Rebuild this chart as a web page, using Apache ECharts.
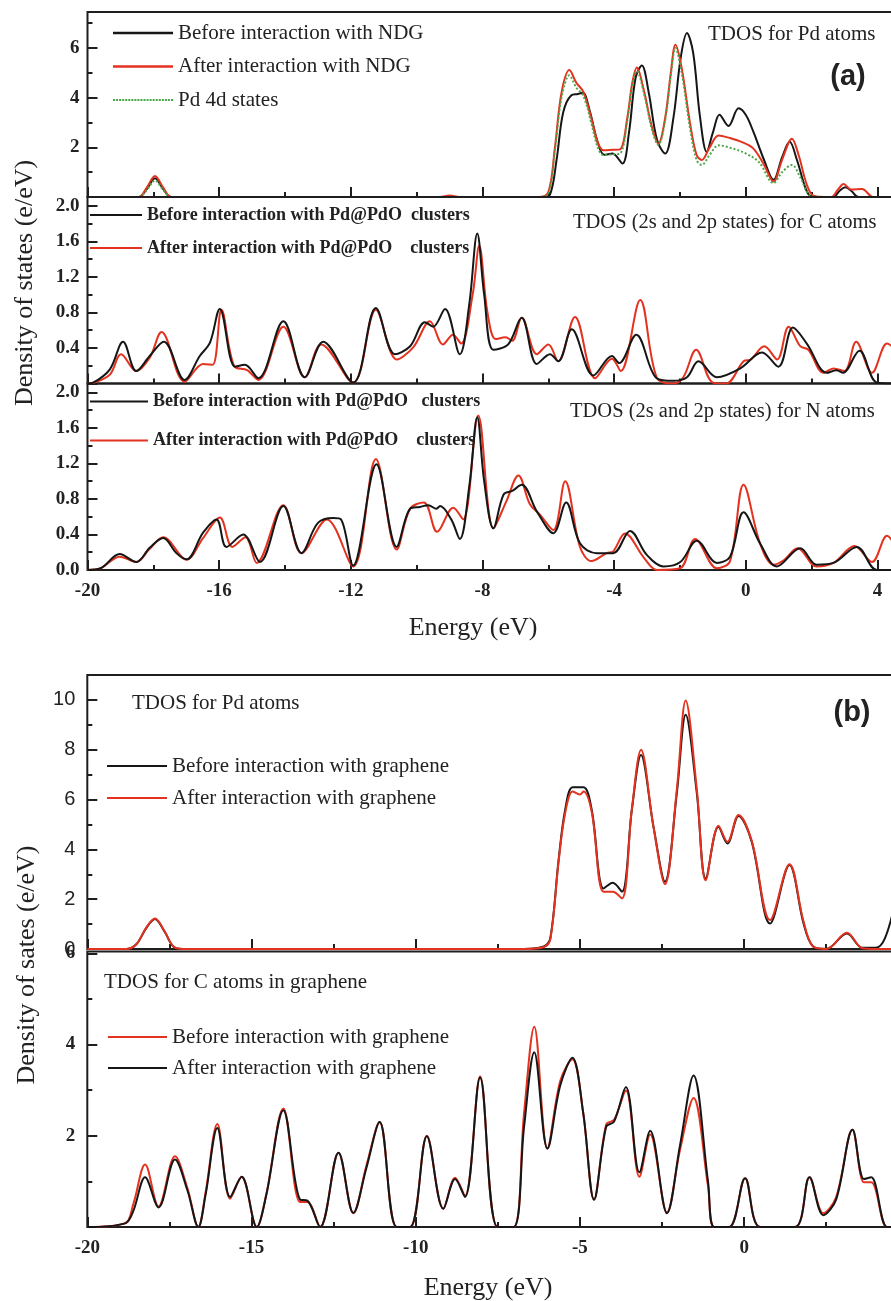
<!DOCTYPE html>
<html><head><meta charset="utf-8">
<script src="https://cdn.jsdelivr.net/npm/echarts@6/dist/echarts.min.js"></script>
<style>html,body{margin:0;padding:0;background:#fff}#c{width:891px;height:1301px}</style>
</head><body><div id="c"></div>
<script>
// ---------------- DATA ----------------
// Energy (eV), DOS (e/eV)
// (a) top: TDOS for Pd atoms
const aPdBefore = [[-20,0],[-18.45,0],[-18.2,0.32],[-17.95,0.76],[-17.7,0.32],[-17.45,0],[-6.2,0],[-5.95,0.1],[-5.75,1.5],[-5.55,3.4],[-5.3,4.1],[-5.1,4.15],[-4.95,4.2],[-4.75,3.5],[-4.5,2.2],[-4.3,1.7],[-4.05,1.75],[-3.75,1.35],[-3.55,2.6],[-3.35,4.8],[-3.16,5.3],[-2.95,4.2],[-2.7,2.3],[-2.45,1.75],[-2.2,3.2],[-1.98,5.6],[-1.79,6.6],[-1.6,5.8],[-1.4,3.3],[-1.19,1.82],[-1.0,2.6],[-0.8,3.31],[-0.53,2.86],[-0.22,3.57],[0.0,3.3],[0.23,2.62],[0.55,1.5],[0.84,0.69],[1.1,1.6],[1.33,2.22],[1.55,1.5],[1.8,0.4],[1.95,0.05],[2.2,0],[2.65,0],[2.85,0.25],[3.02,0.39],[3.2,0.25],[3.42,0],[4.5,0]];
const aPdAfter = [[-20,0],[-18.45,0],[-18.2,0.38],[-17.95,0.85],[-17.7,0.38],[-17.45,0],[-9.3,0],[-9.0,0.06],[-8.7,0],[-6.3,0],[-6.0,0.2],[-5.8,2.0],[-5.6,4.2],[-5.36,5.11],[-5.15,4.6],[-4.94,4.24],[-4.7,3.2],[-4.5,2.2],[-4.33,1.88],[-4.05,1.9],[-3.82,1.92],[-3.6,3.2],[-3.45,4.6],[-3.31,5.21],[-3.1,4.3],[-2.85,2.8],[-2.66,2.15],[-2.45,3.2],[-2.28,5.0],[-2.14,6.13],[-1.95,5.2],[-1.7,3.0],[-1.5,1.7],[-1.34,1.49],[-1.1,2.0],[-0.83,2.48],[-0.5,2.38],[-0.1,2.2],[0.23,1.95],[0.55,1.3],[0.84,0.62],[1.1,1.5],[1.4,2.35],[1.6,1.7],[1.85,0.5],[2.05,0.05],[2.4,0],[2.6,0],[2.8,0.3],[2.97,0.52],[3.2,0.3],[3.53,0.32],[3.87,0],[4.5,0]];
const aPd4d = [[-20,0],[-18.45,0],[-18.2,0.28],[-17.95,0.66],[-17.7,0.28],[-17.45,0],[-6.3,0],[-6.0,0.15],[-5.8,1.9],[-5.6,4.0],[-5.36,4.9],[-5.15,4.4],[-4.94,4.08],[-4.7,3.0],[-4.5,2.0],[-4.33,1.69],[-4.05,1.72],[-3.82,1.75],[-3.6,3.1],[-3.45,4.5],[-3.31,5.07],[-3.1,4.2],[-2.85,2.7],[-2.66,2.1],[-2.45,3.1],[-2.28,4.9],[-2.14,6.0],[-1.95,5.0],[-1.7,2.8],[-1.5,1.5],[-1.34,1.29],[-1.1,1.7],[-0.83,2.08],[-0.4,1.95],[0.0,1.75],[0.4,1.4],[0.84,0.56],[1.1,1.0],[1.4,1.29],[1.65,0.8],[1.95,0.05],[2.2,0],[4.5,0]];
// (a) middle: TDOS (2s and 2p states) for C atoms
const aCBefore = [[-20,0],[-19.83,0.01],[-19.32,0.16],[-18.92,0.47],[-18.52,0.14],[-18.11,0.31],[-17.68,0.47],[-17.05,0.04],[-16.59,0.31],[-16.28,0.46],[-15.98,0.84],[-15.52,0.19],[-15.22,0.21],[-14.81,0.06],[-14.05,0.70],[-13.4,0.07],[-12.84,0.47],[-11.93,0.01],[-11.24,0.85],[-10.66,0.33],[-10.2,0.42],[-9.75,0.69],[-9.5,0.64],[-9.14,0.84],[-8.69,0.33],[-8.4,0.9],[-8.16,1.69],[-7.95,1.0],[-7.67,0.38],[-7.22,0.44],[-6.81,0.74],[-6.35,0.22],[-5.95,0.33],[-5.7,0.25],[-5.29,0.61],[-4.63,0.09],[-4.07,0.31],[-3.85,0.23],[-3.33,0.55],[-2.71,0.06],[-2.2,0.03],[-1.79,0.07],[-1.44,0.25],[-0.88,0.07],[-0.17,0.17],[0.49,0.35],[0.99,0.19],[1.43,0.63],[1.85,0.45],[2.46,0.12],[2.75,0.15],[2.95,0.12],[3.45,0.37],[3.98,0.01],[4.5,0]];
const aCAfter = [[-20,0],[-19.8,0.01],[-19.32,0.1],[-18.98,0.33],[-18.52,0.14],[-18.11,0.29],[-17.75,0.58],[-17.05,0.02],[-16.49,0.22],[-16.2,0.21],[-15.93,0.83],[-15.55,0.2],[-15.15,0.15],[-14.81,0.04],[-14.05,0.64],[-13.4,0.07],[-12.9,0.44],[-11.93,0.01],[-11.24,0.83],[-10.6,0.27],[-10.1,0.41],[-9.6,0.70],[-9.2,0.44],[-8.9,0.55],[-8.65,0.45],[-8.3,1.0],[-8.1,1.55],[-7.85,0.8],[-7.6,0.5],[-7.3,0.52],[-7.1,0.48],[-6.81,0.74],[-6.35,0.33],[-6.0,0.44],[-5.7,0.25],[-5.19,0.75],[-4.58,0.06],[-4.07,0.28],[-3.8,0.14],[-3.21,0.94],[-2.71,0.07],[-2.2,0],[-1.9,0.07],[-1.51,0.38],[-1.0,0.01],[-0.6,0],[-0.07,0.25],[0.15,0.27],[0.56,0.42],[0.95,0.27],[1.3,0.64],[1.65,0.42],[1.9,0.38],[2.36,0.12],[2.66,0.17],[3.0,0.14],[3.35,0.47],[3.83,0.12],[4.29,0.45],[4.5,0.4]];
// (a) bottom: TDOS (2s and 2p states) for N atoms
const aNBefore = [[-20,0],[-19.6,0.02],[-19.02,0.18],[-18.52,0.09],[-18.11,0.25],[-17.70,0.36],[-17.3,0.19],[-16.99,0.12],[-16.49,0.42],[-16.08,0.57],[-15.78,0.26],[-15.27,0.40],[-14.76,0.09],[-14.05,0.72],[-13.5,0.19],[-13.0,0.53],[-12.53,0.585],[-12.3,0.57],[-11.93,0.05],[-11.22,1.19],[-10.61,0.26],[-10.2,0.69],[-9.9,0.71],[-9.65,0.73],[-9.4,0.69],[-9.29,0.72],[-8.95,0.57],[-8.69,0.35],[-8.4,0.95],[-8.16,1.72],[-7.95,1.0],[-7.67,0.47],[-7.36,0.85],[-7.1,0.89],[-6.81,0.96],[-6.35,0.66],[-5.85,0.415],[-5.46,0.76],[-5.04,0.30],[-4.53,0.19],[-4.03,0.19],[-3.52,0.44],[-3.01,0.17],[-2.5,0.04],[-1.99,0.09],[-1.49,0.33],[-0.88,0.08],[-0.48,0.15],[-0.07,0.65],[0.43,0.30],[0.94,0.04],[1.65,0.245],[2.15,0.06],[2.66,0.08],[3.37,0.26],[3.98,0],[4.5,0]];
const aNAfter = [[-20,0],[-19.6,0.02],[-19.02,0.15],[-18.52,0.09],[-18.11,0.24],[-17.70,0.37],[-16.99,0.115],[-16.49,0.36],[-15.98,0.59],[-15.6,0.26],[-15.2,0.37],[-14.86,0.08],[-14.05,0.73],[-13.5,0.19],[-12.73,0.57],[-11.93,0.04],[-11.24,1.25],[-10.61,0.23],[-10.2,0.69],[-9.78,0.76],[-9.38,0.43],[-8.89,0.70],[-8.59,0.57],[-8.13,1.74],[-7.67,0.47],[-7.28,0.77],[-6.91,1.065],[-6.56,0.74],[-6.25,0.62],[-5.85,0.45],[-5.49,1.0],[-5.04,0.26],[-4.69,0.1],[-4.23,0.19],[-4.03,0.21],[-3.67,0.41],[-3.1,0.14],[-2.7,0],[-2.0,0.02],[-1.54,0.35],[-0.88,0.02],[-0.48,0.1],[-0.07,0.96],[0.43,0.3],[0.84,0.06],[1.15,0.11],[1.57,0.245],[2.15,0.04],[2.66,0.08],[3.3,0.27],[3.83,0.09],[4.29,0.385],[4.5,0.3]];
// (b) top: TDOS for Pd atoms
const bPdBefore = [[-20,0],[-18.8,0],[-18.5,0.2],[-18.2,0.85],[-17.94,1.2],[-17.65,0.7],[-17.38,0.1],[-17.1,0],[-6.7,0],[-6.1,0.1],[-5.9,0.44],[-5.65,3.57],[-5.45,5.58],[-5.22,6.49],[-4.89,6.49],[-4.64,5.58],[-4.28,2.43],[-4.0,2.66],[-3.72,2.3],[-3.42,5.58],[-3.14,7.79],[-2.76,4.91],[-2.41,2.7],[-2.05,6.25],[-1.78,9.4],[-1.44,6.25],[-1.17,2.83],[-0.78,4.91],[-0.51,4.24],[-0.17,5.34],[0.23,4.31],[0.79,1.02],[1.38,3.37],[1.81,1.02],[2.1,0.1],[2.5,0],[3.13,0.62],[3.6,0.05],[4.0,0.05],[4.29,0.44],[4.6,1.9]];
const bPdAfter = [[-20,0],[-18.8,0],[-18.5,0.2],[-18.2,0.87],[-17.94,1.22],[-17.65,0.72],[-17.38,0.1],[-17.1,0],[-6.7,0],[-6.1,0.08],[-5.9,0.4],[-5.65,3.5],[-5.45,5.45],[-5.22,6.32],[-5.0,6.2],[-4.89,6.32],[-4.64,5.5],[-4.28,2.3],[-4.0,2.3],[-3.72,2.03],[-3.42,5.6],[-3.14,8.0],[-2.76,4.9],[-2.41,2.6],[-2.05,6.4],[-1.78,9.98],[-1.44,6.4],[-1.17,2.76],[-0.78,4.95],[-0.51,4.3],[-0.17,5.38],[0.23,4.35],[0.79,1.16],[1.38,3.4],[1.81,1.1],[2.1,0.1],[2.5,0],[3.13,0.65],[3.6,0.03],[4.0,0],[4.6,0]];
// (b) bottom: TDOS for C atoms in graphene
const bCBefore = [[-20,0],[-18.85,0.08],[-18.6,0.5],[-18.24,1.37],[-17.83,0.45],[-17.33,1.55],[-16.95,0.85],[-16.62,0],[-16.4,0.75],[-16.04,2.26],[-15.65,0.62],[-15.3,1.10],[-14.84,0],[-14.55,0.72],[-14.03,2.6],[-13.52,0.55],[-13.3,0.55],[-12.91,0],[-12.35,1.63],[-11.90,0.3],[-11.5,1.35],[-11.1,2.3],[-10.58,0],[-10.17,0],[-9.66,2.0],[-9.16,0.4],[-8.80,1.08],[-8.5,0.68],[-8.04,3.3],[-7.51,0],[-7.02,0],[-6.7,2.5],[-6.39,4.39],[-5.99,1.72],[-5.6,3.2],[-5.23,3.68],[-4.9,2.5],[-4.57,0.6],[-4.2,2.25],[-3.96,2.35],[-3.6,2.99],[-3.19,1.1],[-2.86,2.03],[-2.35,0.32],[-1.95,1.7],[-1.54,2.83],[-1.1,0.9],[-0.91,0],[-0.45,0],[0.03,1.07],[0.49,0],[1.55,0],[1.99,1.09],[2.41,0.3],[2.8,0.65],[3.30,2.13],[3.65,0.98],[3.87,0.98],[4.35,0],[4.6,0]];
const bCAfter = [[-20,0],[-18.85,0.08],[-18.6,0.35],[-18.24,1.09],[-17.83,0.43],[-17.33,1.48],[-16.95,0.8],[-16.62,0],[-16.4,0.7],[-16.04,2.17],[-15.65,0.66],[-15.3,1.10],[-14.84,0],[-14.55,0.7],[-14.03,2.56],[-13.52,0.6],[-13.3,0.58],[-12.91,0],[-12.35,1.63],[-11.90,0.31],[-11.5,1.3],[-11.1,2.30],[-10.58,0],[-10.17,0],[-9.66,1.99],[-9.16,0.40],[-8.80,1.05],[-8.5,0.66],[-8.04,3.28],[-7.51,0],[-7.02,0],[-6.7,2.2],[-6.39,3.83],[-5.99,1.72],[-5.6,3.1],[-5.23,3.71],[-4.9,2.5],[-4.57,0.6],[-4.2,2.2],[-3.96,2.31],[-3.6,3.07],[-3.19,1.2],[-2.86,2.11],[-2.35,0.3],[-1.95,1.8],[-1.54,3.32],[-1.1,1.0],[-0.91,0],[-0.45,0],[0.03,1.07],[0.49,0],[1.55,0],[1.99,1.09],[2.41,0.26],[2.8,0.6],[3.30,2.13],[3.65,1.05],[3.87,1.09],[4.35,0],[4.6,0]];

// tick values / labels
const xMajorA = [-20,-16,-12,-8,-4,0,4];
const xMinorA = [-18,-14,-10,-6,-2,2];
const xMajorB = [-20,-15,-10,-5,0];
const xMinorB = [-17.5,-12.5,-7.5,-2.5,2.5];
const yMajorA1 = [0,2,4,6], yMinorA1 = [1,3,5,7], yLabelA1 = [2,4,6];
const yMajorA23 = [0,0.4,0.8,1.2,1.6,2.0], yMinorA23 = [0.2,0.6,1.0,1.4,1.8];
const yLabelA2 = [0.4,0.8,1.2,1.6,2.0], yLabelA3 = [0,0.4,0.8,1.2,1.6,2.0];
const yMajorB1 = [0,2,4,6,8,10], yMinorB1 = [1,3,5,7,9], yLabelB1 = [0,2,4,6,8,10];
const yMajorB2 = [0,2,4,6], yMinorB2 = [1,3,5], yLabelB2 = [2,4,6];

// texts
const legendText = {
  aPdBefore: 'Before interaction with NDG',
  aPdAfter: 'After interaction with NDG',
  aPd4d: 'Pd 4d states',
  aCBefore: 'Before interaction with Pd@PdO  clusters',
  aCAfter: 'After interaction with Pd@PdO    clusters',
  aNBefore: 'Before interaction with Pd@PdO   clusters',
  aNAfter: 'After interaction with Pd@PdO    clusters',
  bPdBefore: 'Before interaction with graphene',
  bPdAfter: 'After interaction with graphene',
  bCBefore: 'Before interaction with graphene',
  bCAfter: 'After interaction with graphene'
};

// ---------------- CHART ----------------
const SERIF = '"Liberation Serif","Times New Roman",serif';
const SANS = '"Liberation Sans",Arial,sans-serif';
const BLACK = '#161616', RED = '#e3321f', GREEN = '#4aa84a', AX = '#1e1e1e';

const grids = [
  {left:87.5, top:12, width:806.5, height:185},
  {left:87.5, top:197, width:806.5, height:186.5},
  {left:87.5, top:383.5, width:806.5, height:186.5},
  {left:87.3, top:675, width:807.9, height:274},
  {left:87.3, top:951.5, width:807.9, height:275.5}
].map((g, i) => Object.assign({show:true, borderColor:AX, borderWidth:2, backgroundColor:'transparent', outerBoundsMode:'none', z: i === 0 ? 10 : 0}, g));

const xRange = [[-20,4.5],[-20,4.5],[-20,4.5],[-20,4.6],[-20,4.6]];
const yRange = [[0,7.45],[0,2.1],[0,2.1],[0,11],[0,6.04]];
const xMaj = [xMajorA,xMajorA,xMajorA,xMajorB,xMajorB];
const xMin = [xMinorA,xMinorA,xMinorA,xMinorB,xMinorB];
const xLab = [[],[],xMajorA,[],xMajorB];
const yMaj = [yMajorA1,yMajorA23,yMajorA23,yMajorB1,yMajorB2];
const yMin = [yMinorA1,yMinorA23,yMinorA23,yMinorB1,yMinorB2];
const yLab = [yLabelA1,yLabelA2,yLabelA3,yLabelB1,yLabelB2];
const yFmt = [v => String(v), v => v.toFixed(1), v => v.toFixed(1), v => String(v), v => String(v)];
const yFont = [SERIF,SERIF,SERIF,SANS,SERIF];
const yWeight = ['bold','bold','bold','normal','bold'];

const noLine = {show:false, onZero:false};
const xAxes = [], yAxes = [];
for (let i = 0; i < 5; i++) {
  xAxes.push({type:'value', gridIndex:i, position:'bottom', min:xRange[i][0], max:xRange[i][1],
    axisLine:noLine, splitLine:{show:false},
    axisTick:{show:true, inside:true, length:10, lineStyle:{color:AX, width:2}, customValues:xMaj[i]},
    axisLabel:{show:xLab[i].length>0, customValues:xLab[i], margin:12, color:'#222', fontFamily:SERIF, fontWeight:'bold', fontSize:19}
  });
  xAxes.push({type:'value', gridIndex:i, position:'bottom', min:xRange[i][0], max:xRange[i][1],
    axisLine:noLine, splitLine:{show:false}, axisLabel:{show:false},
    axisTick:{show:true, inside:true, length:5, lineStyle:{color:AX, width:2}, customValues:xMin[i]}
  });
  yAxes.push({type:'value', gridIndex:i, position:'left', min:yRange[i][0], max:yRange[i][1],
    axisLine:noLine, splitLine:{show:false},
    axisTick:{show:true, inside:true, length:10, lineStyle:{color:AX, width:2}, customValues:yMaj[i]},
    axisLabel:{show:true, customValues:yLab[i], formatter:yFmt[i], margin:i>=3?12:8, color:'#222', fontFamily:yFont[i], fontWeight:yWeight[i], fontSize:i===3?20:19}
  });
  yAxes.push({type:'value', gridIndex:i, position:'left', min:yRange[i][0], max:yRange[i][1],
    axisLine:noLine, splitLine:{show:false}, axisLabel:{show:false},
    axisTick:{show:true, inside:true, length:5, lineStyle:{color:AX, width:2}, customValues:yMin[i]}
  });
}

function line(name, data, panel, color, width, dashed) {
  return {type:'line', name, data, xAxisIndex:panel*2, yAxisIndex:panel*2,
    smooth:0.35, symbol:'none', showSymbol:false, clip:true, z:3,
    lineStyle:{color, width, type: dashed ? 'dotted' : 'solid'}, itemStyle:{color}};
}
const series = [
  line('aPdBefore', aPdBefore, 0, BLACK, 2),
  line('aPdAfter', aPdAfter, 0, RED, 2),
  line('aPd4d', aPd4d, 0, GREEN, 2, true),
  line('aCAfter', aCAfter, 1, RED, 2),
  line('aCBefore', aCBefore, 1, BLACK, 2),
  line('aNAfter', aNAfter, 2, RED, 2),
  line('aNBefore', aNBefore, 2, BLACK, 2),
  line('bPdBefore', bPdBefore, 3, BLACK, 2),
  line('bPdAfter', bPdAfter, 3, RED, 2),
  line('bCBefore', bCBefore, 4, RED, 2),
  line('bCAfter', bCAfter, 4, BLACK, 2)
];

// legend icon shapes (solid bar, dotted bar)
let dotPath = 'path://';
for (let k = 0; k < 20; k++) dotPath += 'M' + (k * 3) + ',0h2v2h-2z';
function legend(names, left, top, itemWidth, iconH, gap, font, weight, size, lh) {
  return {show:true, orient:'vertical', left, top, padding:0, itemWidth, itemHeight:iconH,
    data: names.map(n => ({name:n, icon: n === 'aPd4d' ? dotPath : 'rect'})),
    itemGap:gap, selectedMode:false, formatter: n => legendText[n],
    textStyle:{fontFamily:font, fontWeight:weight, fontSize:size, color:'#222', lineHeight:lh}};
}
const legends = [
  legend(['aPdBefore','aPdAfter','aPd4d'], 113, 22, 60, 2.5, 11.5, SERIF, 'normal', 21, 22),
  legend(['aCBefore','aCAfter'], 90, 205, 52, 2, 13, SERIF, 'bold', 18, 20),
  legend(['aNBefore','aNAfter'], 90, 391.5, 58, 2, 19, SERIF, 'bold', 18, 20),
  legend(['bPdBefore','bPdAfter'], 107, 755, 60, 2, 10, SERIF, 'normal', 21, 22),
  legend(['bCBefore','bCAfter'], 108, 1026, 59, 2, 9, SERIF, 'normal', 21, 22)
];

function txt(text, x, y, font, align, rot) {
  return {type:'text', x, y, rotation: rot || 0, z:20, silent:true,
    style:{text, font, fill:'#222', align: align || 'left', verticalAlign:'middle'}};
}
const graphics = [
  txt('TDOS for Pd atoms', 708, 34, '21px ' + SERIF),
  txt('(a)', 848, 77, 'bold 29px ' + SANS, 'center'),
  txt('TDOS (2s and 2p states) for C atoms', 573, 223, '20.5px ' + SERIF),
  txt('TDOS (2s and 2p states) for N atoms', 570, 412, '20.5px ' + SERIF),
  txt('Energy (eV)', 473, 628, '26px ' + SERIF, 'center'),
  txt('Density of states (e/eV)', 25, 283, '26px ' + SERIF, 'center', Math.PI/2),
  txt('TDOS for Pd atoms', 132, 703, '21px ' + SERIF),
  txt('(b)', 852, 713, 'bold 29px ' + SANS, 'center'),
  txt('TDOS for C atoms in graphene', 104, 982, '21px ' + SERIF),
  txt('Energy (eV)', 488, 1288, '26px ' + SERIF, 'center'),
  txt('Density of sates (e/eV)', 27, 965, '26px ' + SERIF, 'center', Math.PI/2)
];

const chart = echarts.init(document.getElementById('c'), null, {renderer:'canvas'});
chart.setOption({
  animation:false,
  backgroundColor:'#fff',
  grid:grids, xAxis:xAxes, yAxis:yAxes, series, legend:legends, graphic:graphics
});
</script></body></html>
